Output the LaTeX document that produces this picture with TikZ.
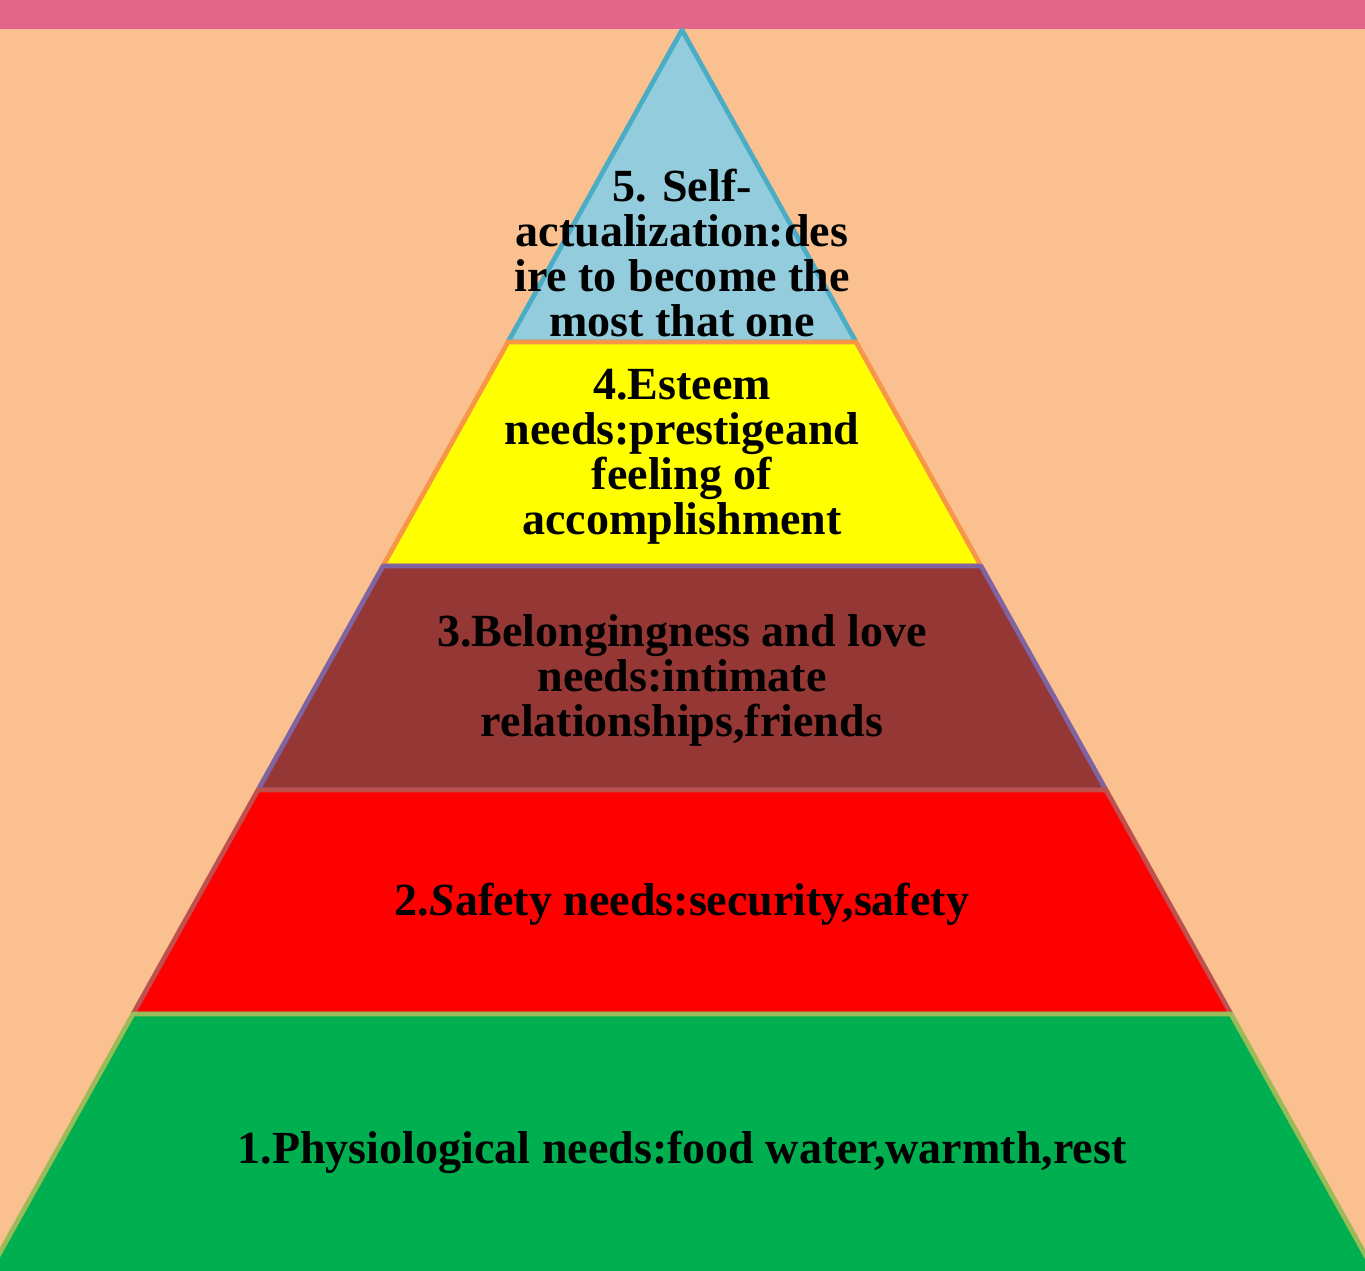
\documentclass[tikz,border=0pt]{standalone}
\usepackage{fontspec}
\setmainfont{Liberation Serif}
\usepackage{tikz}
\usetikzlibrary{positioning}
\definecolor{mpink}{HTML}{E2668A}
\definecolor{mpeach}{HTML}{FAC090}
\definecolor{mblue}{HTML}{93CDDD}
\definecolor{mblueb}{HTML}{4BACC6}
\definecolor{myel}{HTML}{FFFF00}
\definecolor{myelb}{HTML}{F79646}
\definecolor{mbrown}{HTML}{953735}
\definecolor{mbrownb}{HTML}{8064A2}
\definecolor{mred}{HTML}{FF0000}
\definecolor{mredb}{HTML}{C0504D}
\definecolor{mgreen}{HTML}{00B050}
\definecolor{mgreenb}{HTML}{9BBB59}
\tikzset{
  layer/.style={line width=1.35pt,line join=round},
  txt/.style={align=center,font=\fontsize{13.1}{12.8}\selectfont\bfseries,text=black,inner sep=0pt},
}
\begin{document}
\begin{tikzpicture}
  \useasboundingbox (0,0) rectangle (13.65,12.71);
  \clip (0,0) rectangle (13.65,12.71);
  % background
  \fill[mpeach] (0,0) rectangle (13.65,12.71);
  \fill[mpink] (0,12.42) rectangle (13.65,12.71);
  % layers, top down
  \draw[layer,fill=mblue,draw=mblueb] (6.82,12.41) -- (8.56,9.29) -- (5.08,9.29) -- cycle;
  \draw[layer,fill=myel,draw=myelb] (5.08,9.29) -- (8.56,9.29) -- (9.81,7.05) -- (3.83,7.05) -- cycle;
  \draw[layer,fill=mbrown,draw=mbrownb] (3.83,7.05) -- (9.81,7.05) -- (11.06,4.81) -- (2.58,4.81) -- cycle;
  \draw[layer,fill=mred,draw=mredb] (2.58,4.81) -- (11.06,4.81) -- (12.31,2.57) -- (1.33,2.57) -- cycle;
  \draw[layer,fill=mgreen,draw=mgreenb] (1.33,2.57) -- (12.31,2.57) -- (13.91,-0.3) -- (-0.27,-0.3) -- cycle;
  % labels
  \node[txt] (n5) at (6.82,10.18) {5. Self-\\actualization:des\\ire to become the\\most that one};
  \node[txt] (n4) at (6.82,8.14) {4.Esteem\\needs:prestigeand\\feeling of\\accomplishment};
  \node[txt] (n3) at (6.82,5.91) {3.Belongingness and love\\needs:intimate\\relationships,friends};
  \node[txt] (n2) at (6.82,3.67) {2.\textit{S}afety needs:security,safety};
  \node[txt] (n1) at (6.82,1.19) {1.Physiological needs:food water,warmth,rest};
\end{tikzpicture}
\end{document}
